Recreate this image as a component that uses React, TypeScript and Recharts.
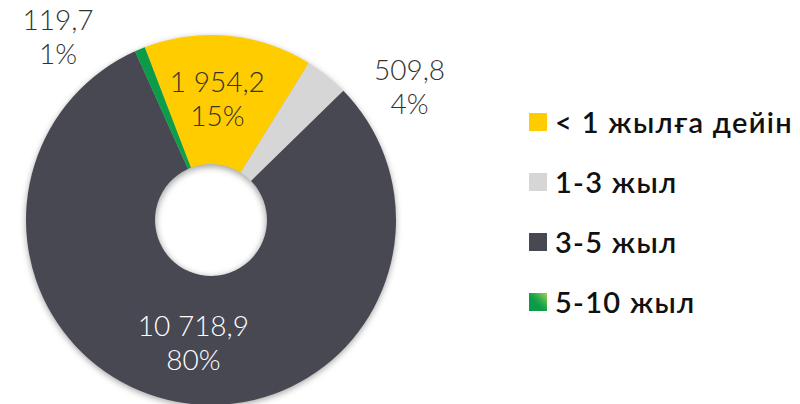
import React from 'react';
import { PieChart, Pie, Cell, Legend } from 'recharts';

const categories = ['< 1 жылға дейін', '1-3 жыл', '3-5 жыл', '5-10 жыл'];
const values = [1954.2, 509.8, 10718.9, 119.7];
const valueLabels = ['1 954,2', '509,8', '10 718,9', '119,7'];
const percentLabels = ['15%', '4%', '80%', '1%'];
const colors = ['#FFCC00', '#D6D6D6', '#484852', 'url(#greenGrad)'];
const legendColors = ['#FFCC00', '#D6D6D6', '#484852', 'linear-gradient(225deg, #9fd05a 0%, #2aa94a 40%, #0a9a48 60%, #0a9a48 100%)'];
const labelColors = ['#333333', '#333333', '#ffffff', '#333333'];

const data = categories.map((name, i) => ({ name, value: values[i] }));

const RAD = Math.PI / 180;

const renderLabel = (props: any) => {
  const { cx, cy, midAngle, percent, index } = props;
  const small = percent < 0.05;
  const r = small ? 240 : 123;
  let theta = 90 - midAngle;
  while (theta > 180) theta -= 360;
  while (theta < -180) theta += 360;
  if (small) theta += theta >= 0 ? 17 : -17;
  else if (theta < 90) theta -= 2.5;
  const x = cx + r * Math.sin(theta * RAD);
  const y = cy - r * Math.cos(theta * RAD);
  return (
    <text
      x={x}
      y={y}
      textAnchor="middle"
      fill={labelColors[index]}
      fontFamily="Lato, 'Noto Sans', sans-serif"
      fontWeight={300}
      fontSize={28}
    >
      <tspan x={x} y={y - 5.5}>{valueLabels[index]}</tspan>
      <tspan x={x} y={y + 28.5}>{percentLabels[index]}</tspan>
    </text>
  );
};

const renderLegend = () => (
  <div style={{ fontFamily: "Lato, 'Noto Sans', sans-serif" }}>
    {categories.map((c, i) => (
      <div key={c} style={{ display: 'flex', alignItems: 'center', height: 60 }}>
        <div style={{ width: 18, height: 18, background: legendColors[i], marginRight: 8 }} />
        <span style={{ fontSize: 29, fontWeight: 600, letterSpacing: 1.3, color: '#111', lineHeight: '18px' }}>{c}</span>
      </div>
    ))}
  </div>
);

export default function App() {
  return (
    <div style={{ position: 'absolute', left: 0, top: 0, width: 800, height: 404, background: '#fff' }}>
      <PieChart width={800} height={404}>
        <defs>
          <linearGradient id="greenGrad" x1="0" y1="0" x2="1" y2="1">
            <stop offset="0%" stopColor="#0a9a48" />
            <stop offset="100%" stopColor="#0fa04a" />
          </linearGradient>
          <filter id="pieShadow" x="-20%" y="-20%" width="140%" height="140%">
            <feGaussianBlur stdDeviation="3" />
          </filter>
        </defs>
        <Pie
          data={data}
          dataKey="value"
          nameKey="name"
          cx={206}
          cy={217}
          innerRadius={55}
          outerRadius={185}
          startAngle={111}
          endAngle={-249}
          stroke="none"
          isAnimationActive={false}
          legendType="none"
          style={{ filter: 'url(#pieShadow)' }}
        >
          {data.map((d, i) => (
            <Cell key={d.name} fill="rgba(0,0,0,0.35)" stroke="none" />
          ))}
        </Pie>
        <Pie
          data={data}
          dataKey="value"
          nameKey="name"
          cx={206}
          cy={215}
          innerRadius={56}
          outerRadius={185}
          startAngle={111}
          endAngle={-249}
          stroke="none"
          isAnimationActive={false}
          labelLine={false}
          label={renderLabel}
        >
          {data.map((d, i) => (
            <Cell key={d.name} fill={colors[i]} stroke="none" />
          ))}
        </Pie>
        <Legend
          layout="vertical"
          align="right"
          verticalAlign="top"
          content={renderLegend}
          wrapperStyle={{ left: 529, top: 92, width: 270 }}
        />
      </PieChart>
    </div>
  );
}
